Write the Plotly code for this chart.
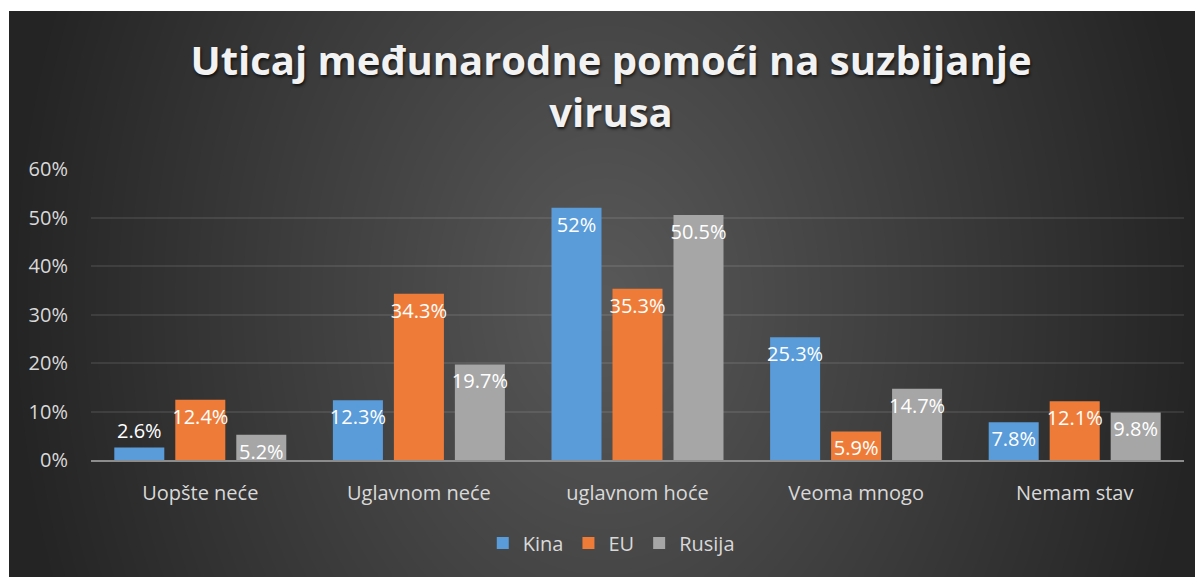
import base64
import struct
import zlib

import numpy as np
import plotly.graph_objects as go

# ---------------- data ----------------
categories = ["Uopšte neće", "Uglavnom neće", "uglavnom hoće", "Veoma mnogo", "Nemam stav"]
kina = [2.6, 12.3, 52.0, 25.3, 7.8]
eu = [12.4, 34.3, 35.3, 5.9, 12.1]
rusija = [5.2, 19.7, 50.5, 14.7, 9.8]
series_names = ["Kina", "EU", "Rusija"]
y_ticks = [0, 10, 20, 30, 40, 50, 60]
title_text = "Uticaj međunarodne pomoći na suzbijanje<br>virusa"

# ---------------- layout geometry (page has an 8px body margin) ----------------
OFF = 8
W, H = 1203 - OFF, 577 - OFF
ML, MR, MT, MB = 91 - OFF, 19, 169 - OFF, 117
PW, PH = W - ML - MR, H - MT - MB

# ---------------- background (radial gradient) ----------------
def png_gray(arr):
    h, w = arr.shape
    raw = b"".join(b"\x00" + arr[i].tobytes() for i in range(h))

    def chunk(t, d):
        return struct.pack(">I", len(d)) + t + d + struct.pack(">I", zlib.crc32(t + d) & 0xFFFFFFFF)

    return (b"\x89PNG\r\n\x1a\n"
            + chunk(b"IHDR", struct.pack(">IIBBBBB", w, h, 8, 0, 0, 0, 0))
            + chunk(b"IDAT", zlib.compress(raw, 9))
            + chunk(b"IEND", b""))

yy, xx = np.mgrid[0:H, 0:W].astype(float)
xx += OFF
yy += OFF
r = np.sqrt(((xx - 605) / 600.0) ** 2 + ((yy - 300) / 283.0 * 0.35) ** 2)
r = np.clip(r, 0, 1)
bg = (89 - 53 * r).astype(np.uint8)
bg[:11 - OFF, :] = 255
bg[:, :9 - OFF] = 255
bg_uri = "data:image/png;base64," + base64.b64encode(png_gray(bg)).decode()

# ---------------- figure ----------------
colors = ["#5a9bd9", "#ee7c38", "#a6a6a6"]
fig = go.Figure()
for name, vals, col in zip(series_names, [kina, eu, rusija], colors):
    fig.add_trace(go.Bar(
        name=name,
        x=categories,
        y=[v / 100 for v in vals],
        marker=dict(color=col, line=dict(width=0)),
        text=[f"{v:g}%" for v in vals],
        textposition=["outside" if v < 4 else "inside" for v in vals],
        insidetextanchor="end",
        constraintext="none",
        textangle=0,
        cliponaxis=False,
        insidetextfont=dict(family="Open Sans", size=20, color="#ffffff"),
        outsidetextfont=dict(family="Open Sans", size=20, color="#ffffff"),
        hoverinfo="skip",
    ))

fig.update_layout(
    width=W, height=H,
    margin=dict(l=ML, r=MR, t=MT, b=MB, pad=0),
    paper_bgcolor="#ffffff",
    plot_bgcolor="rgba(0,0,0,0)",
    barmode="group",
    bargap=0.163,
    bargroupgap=0.18,
    font=dict(family="Open Sans", color="#d9d9d9", size=20),
    title=dict(
        text=title_text,
        x=0.5046, xanchor="center", xref="container",
        y=0.883, yanchor="middle", yref="container",
        font=dict(family="Open Sans", size=40, color="#f2f2f2", weight="bold",
                  shadow="1px 2px 3px rgba(0,0,0,0.7)"),
    ),
    showlegend=True,
    legend=dict(
        orientation="h",
        x=0.476, xanchor="center",
        y=-83 / PH, yanchor="middle",
        font=dict(family="Open Sans", size=20, color="#d9d9d9"),
        bgcolor="rgba(0,0,0,0)",
        itemclick=False, itemdoubleclick=False,
    ),
    images=[dict(
        source=bg_uri,
        xref="paper", yref="paper",
        x=-ML / PW, y=(PH + MT) / PH,
        sizex=W / PW, sizey=H / PH,
        xanchor="left", yanchor="top",
        sizing="stretch", layer="below",
    )],
)

fig.update_xaxes(
    showline=True, linecolor="#8c8c8c", linewidth=2,
    showgrid=False, ticks="", ticklabelstandoff=14,
    tickfont=dict(family="Open Sans", size=20, color="#d9d9d9"),
)
fig.update_yaxes(
    range=[0, 0.6],
    tickvals=[t / 100 for t in y_ticks],
    ticktext=[f"{t}%" for t in y_ticks],
    showgrid=True, gridcolor="rgba(255,255,255,0.09)", gridwidth=2,
    zeroline=False, showline=False, ticks="", ticklabelstandoff=22,
    tickfont=dict(family="Open Sans", size=20, color="#d9d9d9"),
)

fig.write_html("out.html")
